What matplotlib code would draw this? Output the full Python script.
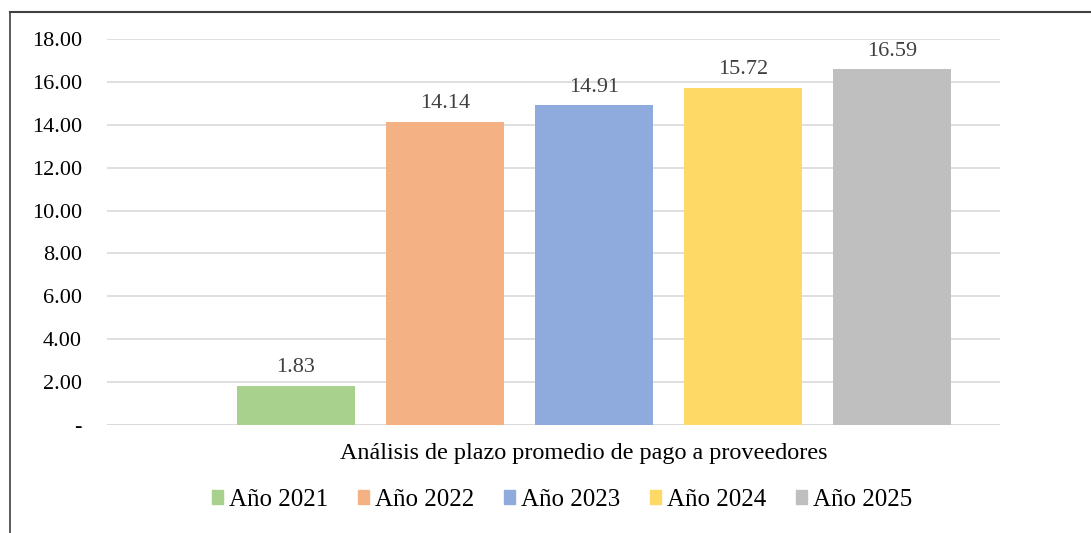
import matplotlib.pyplot as plt
from matplotlib.lines import Line2D

plt.rcParams['font.family'] = ['Liberation Serif', 'DejaVu Serif']

series = ['Año 2021', 'Año 2022', 'Año 2023', 'Año 2024', 'Año 2025']
values = [1.83, 14.14, 14.91, 15.72, 16.59]
colors = ['#A9D18E', '#F4B183', '#8FAADC', '#FFD966', '#BFBFBF']
category = 'Análisis de plazo promedio de pago a proveedores'
yticks = [0, 2, 4, 6, 8, 10, 12, 14, 16, 18]

fig = plt.figure(figsize=(10.91, 5.33), dpi=100)
ax = fig.add_axes([0.098, 0.2026, 0.8186, 0.7242])

for i, (s, v, c) in enumerate(zip(series, values, colors)):
    ax.bar(i, v, width=0.79, color=c, label=s, zorder=3)
    ax.text(i, v + 0.4, f'{v:.2f}', ha='center', va='bottom',
            fontsize=16, color='#404040')

ax.set_xlim(-1.268, 4.725)
ax.set_ylim(0, 18)
ax.set_yticks(yticks)
ax.set_yticklabels(['-' if t == 0 else f'{t:.2f}' for t in yticks], fontsize=16)
ax.yaxis.grid(True, color='#D9D9D9', linewidth=1.2, zorder=0)
ax.tick_params(axis='y', length=0, pad=18)
ax.set_xticks([])
for sp in ax.spines.values():
    sp.set_visible(False)
ax.axhline(0, color='#D9D9D9', linewidth=1.2, zorder=1)

fig.text(584 / 1091, 1 - 453 / 533, category, ha='center', va='center', fontsize=17.4)

handles = [plt.Rectangle((0, 0), 1, 1, color=c) for c in colors]
fig.legend(handles, series, loc='center', bbox_to_anchor=(562 / 1091, 1 - 500 / 533),
           ncol=5, frameon=False, fontsize=18, handlelength=0.45, handleheight=0.45,
           handletextpad=0.22, columnspacing=1.2)

# outer frame (left and top edges)
fig.add_artist(Line2D([10 / 1091, 10 / 1091], [0, 1 - 12 / 533], color='#404040', linewidth=1.2))
fig.add_artist(Line2D([10 / 1091, 1], [1 - 12 / 533, 1 - 12 / 533], color='#404040', linewidth=1.5))

fig.savefig('out.png', dpi=100)
